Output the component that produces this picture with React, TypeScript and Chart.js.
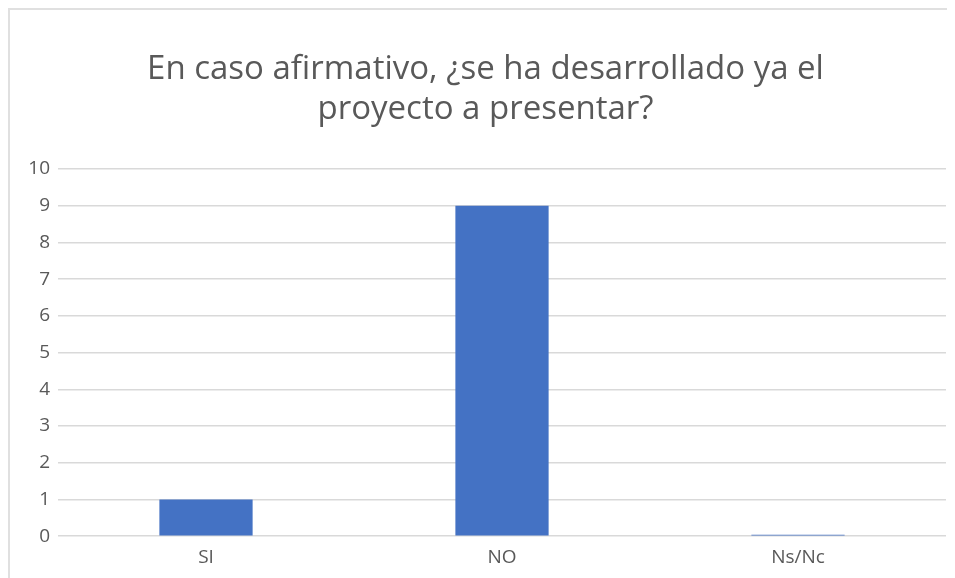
import React, { useEffect, useRef } from "react";
import { Chart, registerables } from "chart.js";

Chart.register(...registerables);

const categories = ["SI", "NO", "Ns/Nc"];
const values = [1, 9, 0];
const titleLines = ["En caso afirmativo, ¿se ha desarrollado ya el", "proyecto a presentar?"];
const yMin = 0;
const yMax = 10;

const FONT = "'Open Sans', 'Noto Sans', sans-serif";

export default function App() {
  const ref = useRef<HTMLCanvasElement | null>(null);

  useEffect(() => {
    document.body.style.overflow = "hidden";
    document.documentElement.style.overflow = "hidden";
    if (!ref.current) return;
    const chart = new Chart(ref.current, {
      type: "bar",
      data: {
        labels: categories,
        datasets: [
          {
            data: values,
            backgroundColor: "#4472C4",
            borderWidth: 0,
            categoryPercentage: 1,
            barPercentage: 0.315,
            minBarLength: 1.5,
          },
        ],
      },
      options: {
        animation: false,
        responsive: false,
        devicePixelRatio: 1,
        layout: { padding: { left: 15, right: 9, top: 0, bottom: 1 } },
        plugins: {
          legend: { display: false },
          tooltip: { enabled: false },
          title: {
            display: true,
            text: titleLines,
            color: "#595959",
            font: { family: FONT, size: 33, weight: "normal", lineHeight: 40 / 33 },
            padding: { top: 40, bottom: 39 },
          },
        },
        scales: {
          x: {
            grid: { display: false, drawTicks: false },
            border: { display: false },
            ticks: { color: "#595959", font: { family: FONT, size: 19 }, padding: 10 },
          },
          y: {
            min: yMin,
            max: yMax,
            afterFit: (s: any) => {
              s.width = 33;
            },
            grid: { color: "#d9d9d9", lineWidth: 1.5, drawTicks: false },
            border: { display: false },
            ticks: { stepSize: 1, color: "#595959", font: { family: FONT, size: 19 }, padding: 8 },
          },
        },
      },
    } as any);
    return () => chart.destroy();
  }, []);

  return (
    <div
      style={{
        width: 945,
        height: 570,
        border: "2px solid #e0e0e0",
        boxSizing: "content-box",
        background: "#fff",
      }}
    >
      <canvas ref={ref} width={945} height={570} style={{ display: "block" }} />
    </div>
  );
}
